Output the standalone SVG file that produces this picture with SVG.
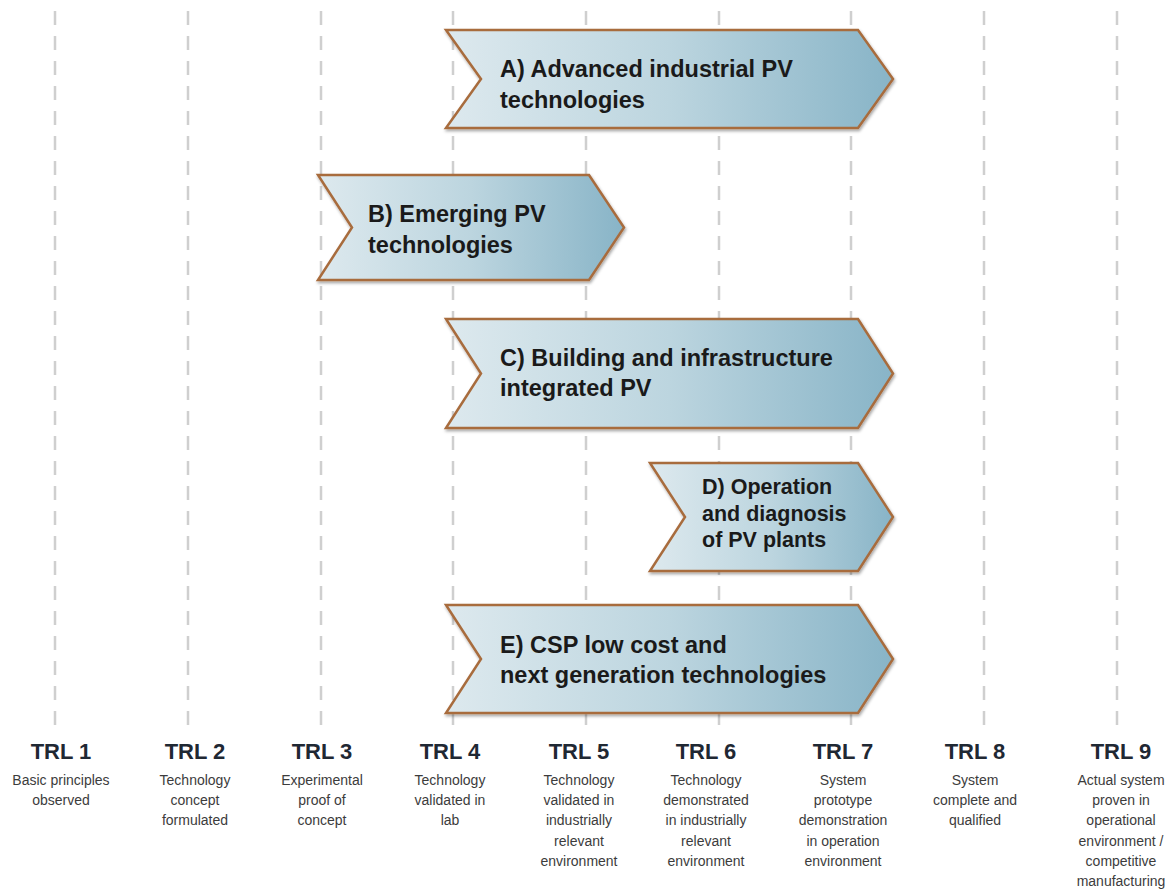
<svg xmlns="http://www.w3.org/2000/svg" width="1168" height="894" viewBox="0 0 1168 894">
<style>
.grid{stroke:#cfcfcf;stroke-width:2.5;stroke-dasharray:14 11;fill:none}
.arrow{fill:url(#fill);stroke:#a86c3e;stroke-width:2.5;stroke-linejoin:miter;filter:url(#sh)}
.lbl{font-family:"Liberation Sans",Arial,sans-serif;font-weight:bold;font-size:23.5px;fill:#1a1a1a}
.lblD{font-family:"Liberation Sans",Arial,sans-serif;font-weight:bold;font-size:21.5px;fill:#1a1a1a}
.trl{font-family:"Liberation Sans",Arial,sans-serif;font-weight:bold;font-size:22px;fill:#1f2833;text-anchor:middle}
.desc{font-family:"Liberation Sans",Arial,sans-serif;font-size:14px;fill:#3c3c3c;text-anchor:middle}
</style>
<defs>
<linearGradient id="fill" x1="0" y1="0" x2="1" y2="0">
<stop offset="0" stop-color="#dde9ee"/>
<stop offset="0.5" stop-color="#bcd5df"/>
<stop offset="1" stop-color="#88b4c7"/>
</linearGradient>
<filter id="sh" x="-5%" y="-10%" width="110%" height="125%">
<feDropShadow dx="1" dy="2" stdDeviation="1.5" flood-color="#000" flood-opacity="0.35"/>
</filter>
</defs>
<rect width="1168" height="894" fill="#ffffff"/>
<g id="gridlines">
<line class="grid" x1="55" y1="11" x2="55" y2="728"/>
<line class="grid" x1="188" y1="11" x2="188" y2="728"/>
<line class="grid" x1="321" y1="11" x2="321" y2="728"/>
<line class="grid" x1="453" y1="11" x2="453" y2="728"/>
<line class="grid" x1="586" y1="11" x2="586" y2="728"/>
<line class="grid" x1="719" y1="11" x2="719" y2="728"/>
<line class="grid" x1="851" y1="11" x2="851" y2="728"/>
<line class="grid" x1="984" y1="11" x2="984" y2="728"/>
<line class="grid" x1="1117" y1="11" x2="1117" y2="728"/>
</g>
<g id="connectors"></g>
<g id="nodeA">
<polygon class="arrow" points="446,30 858,30 893,79 858,128 446,128 481,79"/>
<text class="lbl" x="500" y="77">A) Advanced industrial PV</text>
<text class="lbl" x="500" y="108">technologies</text>
</g>
<g id="nodeB">
<polygon class="arrow" points="318,175 589,175 624,227.5 589,280 318,280 352,227.5"/>
<text class="lbl" x="368" y="222">B) Emerging PV</text>
<text class="lbl" x="368" y="253">technologies</text>
</g>
<g id="nodeC">
<polygon class="arrow" points="446,319 858,319 893,373.5 858,428 446,428 481,373.5"/>
<text class="lbl" x="500" y="366">C) Building and infrastructure</text>
<text class="lbl" x="500" y="396">integrated PV</text>
</g>
<g id="nodeD">
<polygon class="arrow" points="650,463 858,463 893,517 858,571 650,571 685,517"/>
<text class="lblD" x="702" y="494">D) Operation</text>
<text class="lblD" x="702" y="521">and diagnosis</text>
<text class="lblD" x="702" y="547">of PV plants</text>
</g>
<g id="nodeE">
<polygon class="arrow" points="446,605 858,605 893,659 858,713 446,713 481,659"/>
<text class="lbl" x="500" y="653">E) CSP low cost and</text>
<text class="lbl" x="500" y="683">next generation technologies</text>
</g>
<g id="trl1">
<text class="trl" x="61" y="759">TRL 1</text>
<text class="desc" x="61" y="785">Basic principles</text>
<text class="desc" x="61" y="805">observed</text>
</g>
<g id="trl2">
<text class="trl" x="195" y="759">TRL 2</text>
<text class="desc" x="195" y="785">Technology</text>
<text class="desc" x="195" y="805">concept</text>
<text class="desc" x="195" y="825">formulated</text>
</g>
<g id="trl3">
<text class="trl" x="322" y="759">TRL 3</text>
<text class="desc" x="322" y="785">Experimental</text>
<text class="desc" x="322" y="805">proof of</text>
<text class="desc" x="322" y="825">concept</text>
</g>
<g id="trl4">
<text class="trl" x="450" y="759">TRL 4</text>
<text class="desc" x="450" y="785">Technology</text>
<text class="desc" x="450" y="805">validated in</text>
<text class="desc" x="450" y="825">lab</text>
</g>
<g id="trl5">
<text class="trl" x="579" y="759">TRL 5</text>
<text class="desc" x="579" y="785">Technology</text>
<text class="desc" x="579" y="805">validated in</text>
<text class="desc" x="579" y="825">industrially</text>
<text class="desc" x="579" y="846">relevant</text>
<text class="desc" x="579" y="866">environment</text>
</g>
<g id="trl6">
<text class="trl" x="706" y="759">TRL 6</text>
<text class="desc" x="706" y="785">Technology</text>
<text class="desc" x="706" y="805">demonstrated</text>
<text class="desc" x="706" y="825">in industrially</text>
<text class="desc" x="706" y="846">relevant</text>
<text class="desc" x="706" y="866">environment</text>
</g>
<g id="trl7">
<text class="trl" x="843" y="759">TRL 7</text>
<text class="desc" x="843" y="785">System</text>
<text class="desc" x="843" y="805">prototype</text>
<text class="desc" x="843" y="825">demonstration</text>
<text class="desc" x="843" y="846">in operation</text>
<text class="desc" x="843" y="866">environment</text>
</g>
<g id="trl8">
<text class="trl" x="975" y="759">TRL 8</text>
<text class="desc" x="975" y="785">System</text>
<text class="desc" x="975" y="805">complete and</text>
<text class="desc" x="975" y="825">qualified</text>
</g>
<g id="trl9">
<text class="trl" x="1121" y="759">TRL 9</text>
<text class="desc" x="1121" y="785">Actual system</text>
<text class="desc" x="1121" y="805">proven in</text>
<text class="desc" x="1121" y="825">operational</text>
<text class="desc" x="1121" y="846">environment /</text>
<text class="desc" x="1121" y="866">competitive</text>
<text class="desc" x="1121" y="886">manufacturing</text>
</g>
</svg>
